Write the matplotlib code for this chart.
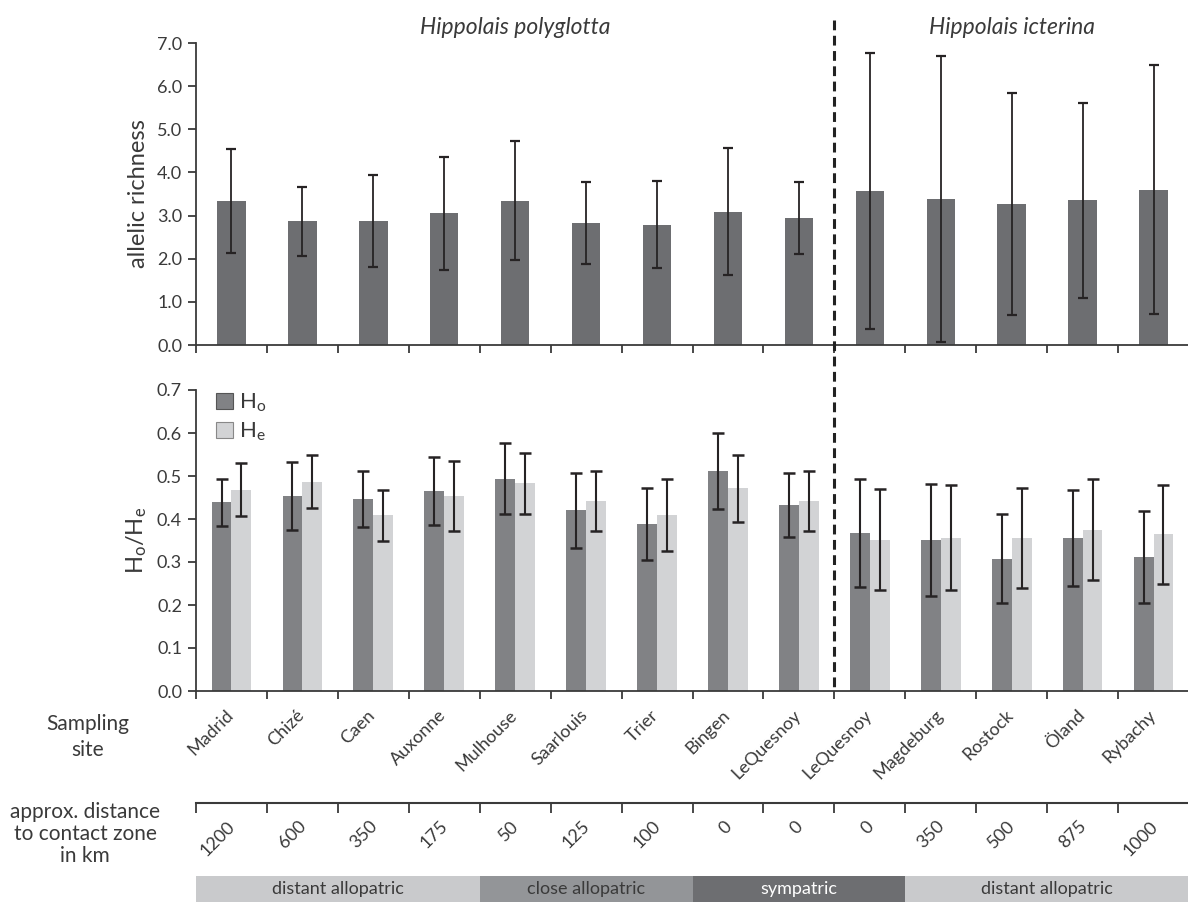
import matplotlib
matplotlib.use('Agg')
import matplotlib.pyplot as plt
import numpy as np
from matplotlib.lines import Line2D
from matplotlib.patches import Patch
from matplotlib.transforms import ScaledTranslation

plt.rcParams['font.family'] = ['Lato', 'DejaVu Sans']
plt.rcParams['mathtext.default'] = 'regular'

# ---------------- data ----------------
sites = ['Madrid', 'Chizé', 'Caen', 'Auxonne', 'Mulhouse', 'Saarlouis', 'Trier',
         'Bingen', 'LeQuesnoy', 'LeQuesnoy', 'Magdeburg', 'Rostock', 'Öland', 'Rybachy']
distances = ['1200', '600', '350', '175', '50', '125', '100', '0', '0', '0',
             '350', '500', '875', '1000']
species = ['Hippolais polyglotta', 'Hippolais icterina']
n_per_species = [9, 5]

ar_mean = [3.34, 2.87, 2.87, 3.05, 3.34, 2.83, 2.79, 3.09, 2.94,
           3.57, 3.38, 3.27, 3.35, 3.60]
ar_sd = [1.21, 0.80, 1.06, 1.30, 1.38, 0.95, 1.00, 1.47, 0.84,
         3.20, 3.32, 2.58, 2.27, 2.88]

ho_mean = [0.439, 0.454, 0.447, 0.465, 0.494, 0.420, 0.388, 0.512, 0.432,
           0.368, 0.352, 0.308, 0.356, 0.312]
ho_sd = [0.055, 0.079, 0.065, 0.079, 0.082, 0.088, 0.084, 0.088, 0.074,
         0.126, 0.130, 0.103, 0.112, 0.107]
he_mean = [0.468, 0.487, 0.409, 0.453, 0.483, 0.442, 0.409, 0.471, 0.442,
           0.352, 0.356, 0.356, 0.375, 0.364]
he_sd = [0.062, 0.062, 0.059, 0.081, 0.071, 0.069, 0.084, 0.077, 0.070,
         0.117, 0.122, 0.116, 0.118, 0.115]

zone_labels = ['distant allopatric', 'close allopatric', 'sympatric', 'distant allopatric']
zone_counts = [4, 3, 3, 4]

# ---------------- style ----------------
c_bar = '#6d6e71'
c_ho = '#818285'
c_he = '#d2d3d5'
c_err = '#262324'
c_axis = '#3a3a3a'
c_text = '#3a3a3a'
zone_colors = ['#c9cacc', '#939598', '#6d6e71', '#c9cacc']
zone_text = [c_text, c_text, 'white', c_text]

W, H = 1188, 902
fig = plt.figure(figsize=(W / 100, H / 100), dpi=100)

def rect(l, t, r, b):
    return [l / W, 1 - b / H, (r - l) / W, (b - t) / H]

x = np.arange(len(sites))
xlim = (-0.5, len(sites) - 0.5)
bounds = np.arange(len(sites) + 1) - 0.5

ax1 = fig.add_axes(rect(196, 43, 1189, 345))
ax2 = fig.add_axes(rect(196, 390, 1189, 691))

def style_axis(ax):
    for s in ['top', 'right']:
        ax.spines[s].set_visible(False)
    for s in ['left', 'bottom']:
        ax.spines[s].set_color(c_axis)
        ax.spines[s].set_linewidth(1.3)
    ax.set_xlim(*xlim)
    ax.set_xticks(x)
    ax.set_xticklabels([])
    ax.tick_params(axis='x', which='major', length=0)
    ax.set_xticks(bounds, minor=True)
    ax.tick_params(axis='x', which='minor', length=6, width=1.3, color=c_axis, direction='out')
    ax.tick_params(axis='y', length=6, width=1.3, color=c_axis, direction='out',
                   labelsize=13, labelcolor=c_text, pad=4)

# ---- top panel: allelic richness ----
ax1.bar(x, ar_mean, width=0.4, color=c_bar, zorder=2)
ax1.errorbar(x, ar_mean, yerr=ar_sd, fmt='none', ecolor=c_err, elinewidth=1.3,
             capsize=3.5, capthick=1.6, zorder=3)
ax1.set_ylim(0, 7)
ax1.set_yticks(np.arange(0, 7.01, 1.0))
ax1.set_yticklabels([f'{v:.1f}' for v in np.arange(0, 7.01, 1.0)])
style_axis(ax1)
ax1.set_ylabel('allelic richness', fontsize=17, color=c_text, labelpad=6)

# species titles
start = 0
for name, n in zip(species, n_per_species):
    cx = start + (n - 1) / 2
    ax1.text(cx, 1.05, name, transform=ax1.get_xaxis_transform(), ha='center',
             va='center', fontsize=16.5, style='italic', color=c_text)
    start += n

# ---- bottom panel: Ho / He ----
bw = 0.28
ax2.bar(x - bw / 2, ho_mean, width=bw, color=c_ho, zorder=2)
ax2.bar(x + bw / 2, he_mean, width=bw, color=c_he, zorder=2)
ax2.errorbar(x - bw / 2, ho_mean, yerr=ho_sd, fmt='none', ecolor=c_err, elinewidth=1.5,
             capsize=4.5, capthick=1.8, zorder=3)
ax2.errorbar(x + bw / 2, he_mean, yerr=he_sd, fmt='none', ecolor=c_err, elinewidth=1.5,
             capsize=4.5, capthick=1.8, zorder=3)
ax2.set_ylim(0, 0.7)
ax2.set_yticks(np.arange(0, 0.701, 0.1))
ax2.set_yticklabels([f'{v:.1f}' for v in np.arange(0, 0.701, 0.1)])
style_axis(ax2)
ax2.set_ylabel('H$_o$/H$_e$', fontsize=17, color=c_text, labelpad=6)

handles = [Patch(facecolor=c_ho, edgecolor='#555555', linewidth=0.8),
           Patch(facecolor=c_he, edgecolor='#888888', linewidth=0.8)]
leg = ax2.legend(handles, ['H$_o$', 'H$_e$'], loc='upper left', bbox_to_anchor=(0.0, 1.06),
                 frameon=False, handlelength=0.75, handleheight=0.75, handletextpad=0.3,
                 labelspacing=0.3, fontsize=16, borderaxespad=0.5)
for t in leg.get_texts():
    t.set_color(c_text)

# site names
off = ScaledTranslation(5 / 100, -16 / 100, fig.dpi_scale_trans)
trans = ax2.get_xaxis_transform() + off
for xi, s in zip(x, sites):
    ax2.text(xi, 0, s, transform=trans, rotation=45, ha='right', va='top',
             fontsize=13, color=c_text)

# vertical dashed separator
x_sep = n_per_species[0] - 0.5
xf = fig.transFigure.inverted().transform(ax1.transData.transform((x_sep, 0)))[0]
fig.add_artist(Line2D([xf, xf], [1 - 20 / H, 1 - 691 / H], transform=fig.transFigure,
                      color='#222222', linewidth=2.2, linestyle=(0, (3.2, 1.8)), zorder=5))

# ---- distance axis ----
ax3 = fig.add_axes(rect(196, 793, 1189, 803))
ax3.set_xlim(*xlim)
ax3.set_ylim(0, 1)
for s in ['top', 'right', 'left']:
    ax3.spines[s].set_visible(False)
ax3.spines['bottom'].set_color(c_axis)
ax3.spines['bottom'].set_linewidth(1.5)
ax3.patch.set_alpha(0)
ax3.set_yticks([])
ax3.set_xticks(bounds)
ax3.set_xticklabels([])
ax3.tick_params(axis='x', length=7, width=1.3, color=c_axis, direction='out')
off3 = ScaledTranslation(7 / 100, -15 / 100, fig.dpi_scale_trans)
trans3 = ax3.get_xaxis_transform() + off3
for xi, d in zip(x, distances):
    ax3.text(xi, 0, d, transform=trans3, rotation=45, ha='right', va='top',
             fontsize=13, color=c_text)

# ---- zone bar ----
ax4 = fig.add_axes(rect(196, 876, 1189, 902))
ax4.set_xlim(*xlim)
ax4.set_ylim(0, 1)
ax4.axis('off')
start = 0
for lab, n, col, tc in zip(zone_labels, zone_counts, zone_colors, zone_text):
    ax4.axvspan(start - 0.5, start + n - 0.5, color=col, lw=0)
    ax4.text(start + (n - 1) / 2, 0.5, lab, ha='center', va='center', fontsize=13, color=tc)
    start += n

# row labels
fig.text(88 / W, 1 - 737 / H, 'Sampling\nsite', ha='center', va='center',
         fontsize=15, color=c_text, linespacing=1.4)
fig.text(85 / W, 1 - 834 / H, 'approx. distance\nto contact zone\nin km', ha='center',
         va='center', fontsize=15, color=c_text, linespacing=1.1)

fig.savefig('out.png', dpi=100)
